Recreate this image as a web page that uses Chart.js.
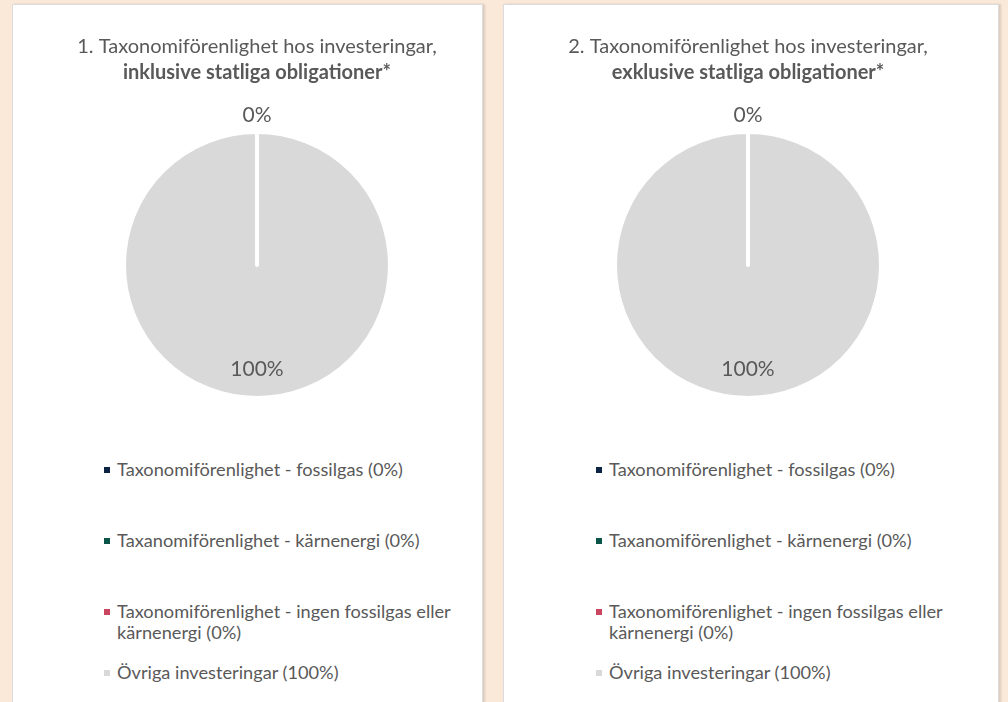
<!DOCTYPE html>
<html>
<head>
<meta charset="utf-8">
<script src="https://cdn.jsdelivr.net/npm/chart.js@4"></script>
<style>
    html, body { margin: 0; padding: 0; }
    body {
        width: 1008px;
        height: 702px;
        overflow: hidden;
        background: #fae8d8;
        position: relative;
        font-family: Lato, "Noto Sans", sans-serif;
    }
    .panel {
        position: absolute;
        top: 4px;
        height: 720px;
        background: #fff;
        border: 1px solid #dcdcdc;
        box-sizing: border-box;
        box-shadow: 2px 0 2px rgba(0, 0, 0, 0.12);
    }
    .chart-box { position: absolute; top: 4px; height: 392px; }
    .legend-item {
        position: absolute;
        width: 340px;
        font-size: 18.2px;
        line-height: 21px;
        color: #595959;
    }
    .legend-item .marker {
        position: absolute;
        left: -13px;
        top: 8px;
        width: 6px;
        height: 6px;
    }
</style>
</head>
<body>
<div class="panel" style="left:12px; width:471px;"></div>
<div class="panel" style="left:503px; width:496px;"></div>

<div class="chart-box" style="left:37px; width:440px;"><canvas id="chartIncl"></canvas></div>
<div class="chart-box" style="left:518px; width:460px;"><canvas id="chartExcl"></canvas></div>

<script>
const categories = [
    "Taxonomiförenlighet - fossilgas",
    "Taxanomiförenlighet - kärnenergi",
    "Taxonomiförenlighet - ingen fossilgas eller kärnenergi",
    "Övriga investeringar"
];
const valuesIncl = [0, 0, 0, 100];
const valuesExcl = [0, 0, 0, 100];
const sliceColors = ["#0d2344", "#0b5548", "#c94560", "#d9d9d9"];

const titleIncl = ["1. Taxonomiförenlighet hos investeringar,", "inklusive statliga obligationer*"];
const titleExcl = ["2. Taxonomiförenlighet hos investeringar,", "exklusive statliga obligationer*"];

const textColor = "#595959";
const legendTops = [470, 541, 612, 673];

// percent labels: inside for real slices, above the pie for empty ones
const pieLabels = {
    id: "pieLabels",
    afterDatasetsDraw(chart) {
        const ctx = chart.ctx;
        const meta = chart.getDatasetMeta(0);
        const data = chart.data.datasets[0].data;
        let zeroDone = false;
        ctx.save();
        ctx.font = "21px Lato, 'Noto Sans', sans-serif";
        ctx.fillStyle = textColor;
        ctx.textAlign = "center";
        ctx.textBaseline = "middle";
        meta.data.forEach((arc, i) => {
            const p = arc.getProps(["x", "y", "startAngle", "endAngle", "outerRadius"], true);
            const mid = (p.startAngle + p.endAngle) / 2;
            let r;
            if (data[i] === 0) {
                if (zeroDone) return;
                zeroDone = true;
                r = p.outerRadius + 17;
            } else {
                r = p.outerRadius * 0.78;
            }
            ctx.fillText(data[i] + "%", p.x + Math.cos(mid) * r, p.y + Math.sin(mid) * r);
        });
        ctx.restore();
    }
};

function makePie(id, values, title) {
    new Chart(document.getElementById(id), {
        type: "pie",
        data: {
            labels: categories,
            datasets: [{
                data: values,
                backgroundColor: sliceColors,
                borderColor: "#ffffff",
                borderWidth: values.map(v => v > 0 ? 4 : 0),
                borderJoinStyle: "round",
                clip: false
            }]
        },
        options: {
            responsive: true,
            maintainAspectRatio: false,
            animation: false,
            radius: 133,
            plugins: {
                legend: { display: false },
                tooltip: { enabled: false },
                title: {
                    display: true,
                    text: title[0],
                    color: textColor,
                    font: { family: "Lato", size: 20, weight: "normal", lineHeight: 1.2 },
                    padding: { top: 31, bottom: 2 }
                },
                subtitle: {
                    display: true,
                    text: title[1],
                    color: textColor,
                    font: { family: "Lato", size: 20, weight: "bold", lineHeight: 1.2 },
                    padding: { top: 0, bottom: 49 }
                }
            }
        },
        plugins: [pieLabels]
    });
}

function makeLegend(values, textLeft) {
    categories.forEach((cat, i) => {
        let item = document.createElement("div");
        item.className = "legend-item";
        item.style.left = textLeft + "px";
        item.style.top = (legendTops[i] - 11) + "px";
        item.textContent = cat + " (" + values[i] + "%)";
        let marker = document.createElement("span");
        marker.className = "marker";
        marker.style.background = sliceColors[i];
        item.appendChild(marker);
        document.body.appendChild(item);
    });
}

makePie("chartIncl", valuesIncl, titleIncl);
makePie("chartExcl", valuesExcl, titleExcl);
makeLegend(valuesIncl, 117);
makeLegend(valuesExcl, 609);
</script>
</body>
</html>
